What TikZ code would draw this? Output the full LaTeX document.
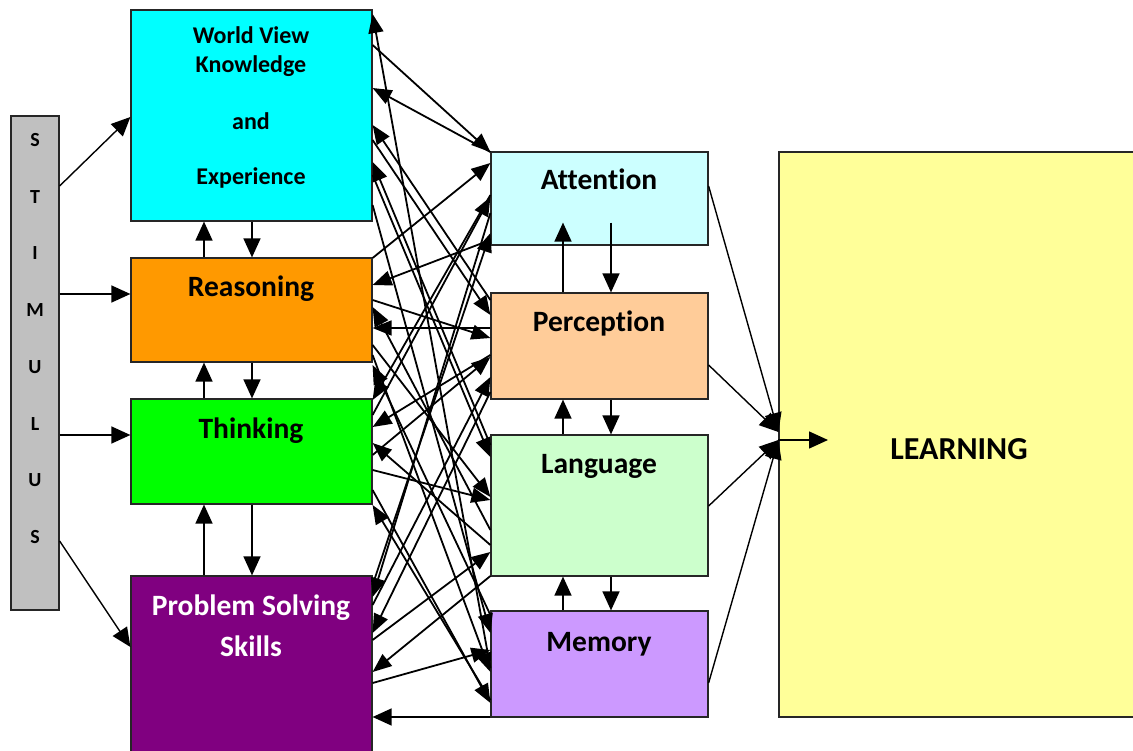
\documentclass[tikz,border=0pt]{standalone}
\usepackage{fontspec}
\setmainfont[Ligatures=NoCommon]{Carlito}
\usetikzlibrary{arrows.meta,calc}
\definecolor{cwv}{HTML}{00FFFF}
\definecolor{crea}{HTML}{FF9900}
\definecolor{cthi}{HTML}{00FF00}
\definecolor{cps}{HTML}{800080}
\definecolor{catt}{HTML}{CCFFFF}
\definecolor{cper}{HTML}{FFCC99}
\definecolor{clang}{HTML}{CCFFCC}
\definecolor{cmem}{HTML}{CC99FF}
\definecolor{clrn}{HTML}{FFFF99}
\definecolor{cstim}{HTML}{C0C0C0}
\tikzset{
  box/.style={draw=black!85, line width=1.2pt, inner sep=0pt, minimum width=#1},
  txt/.style={font=\bfseries\fontsize{29.5}{33}\selectfont, inner sep=0pt, anchor=base},
  wvtxt/.style={font=\bfseries\fontsize{24}{28}\selectfont, inner sep=0pt, anchor=base},
  stxt/.style={font=\bfseries\fontsize{20}{22}\selectfont, inner sep=0pt, anchor=base},
  cn/.style={line width=1.8pt, -{Triangle[length=19pt,width=15pt]}},
  bn/.style={line width=1.4pt, -{Triangle[length=19pt,width=17pt]}}
}
\begin{document}
\begin{tikzpicture}[x=1pt,y=-1pt]
\useasboundingbox (0,0) rectangle (1133,751);
\clip (0,0) rectangle (1133,751);
% boxes
\node[box=48pt, fill=cstim, minimum height=494pt] (stim) at (35,363) {};
\node[box=241pt, fill=cwv, minimum height=211pt] (wv) at (251.5,115.5) {};
\node[box=241pt, fill=crea, minimum height=104pt] (rea) at (251.5,310) {};
\node[box=241pt, fill=cthi, minimum height=105pt] (thi) at (251.5,451.5) {};
\node[box=241pt, fill=cps, minimum height=190pt] (ps) at (251.5,671) {};
\node[box=217pt, fill=catt, minimum height=93pt] (att) at (599.5,198.5) {};
\node[box=217pt, fill=cper, minimum height=106pt] (per) at (599.5,346) {};
\node[box=217pt, fill=clang, minimum height=141pt] (lang) at (599.5,505.5) {};
\node[box=217pt, fill=cmem, minimum height=106pt] (mem) at (599.5,664) {};
\node[box=356pt, fill=clrn, minimum height=565pt] (lrn) at (957,434.5) {};
% texts
\node[wvtxt] (t1) at (251,43.5) {World View};
\node[wvtxt] (t2) at (251,72.5) {Knowledge};
\node[wvtxt] (t3) at (251,129.5) {and};
\node[wvtxt] (t4) at (251,184.5) {Experience};
\node[txt] (t5) at (251,297) {Reasoning};
\node[txt] (t6) at (251,438) {Thinking};
\node[txt, text=white] (t7) at (251,615) {Problem Solving};
\node[txt, text=white] (t8) at (251,656) {Skills};
\node[txt] (t9) at (599,190) {Attention};
\node[txt] (t10) at (599,332) {Perception};
\node[txt] (t11) at (599,473) {Language};
\node[txt] (t12) at (599,651) {Memory};
\node[txt, font=\bfseries\fontsize{32}{36}\selectfont] (t13) at (959,459) {LEARNING};
\foreach \l [count=\i] in {S,T,I,M,U,L,U,S}
  \node[stxt] (s\i) at (35,{146.5+56.7*(\i-1)}) {\l};
% stimulus arrows
\draw[bn] (stim.east |- 0,186) -- (wv.west |- 0,117);
\draw[bn] (stim.east |- 0,294) -- (rea.west |- 0,294);
\draw[bn] (stim.east |- 0,435) -- (thi.west |- 0,435);
\draw[bn] (stim.east |- 0,541) -- (ps.west |- 0,647);
% vertical arrows left column
\draw[bn] (rea.north -| 204,0) -- (wv.south -| 204,0);
\draw[bn] (wv.south -| 252,0) -- (rea.north -| 252,0);
\draw[bn] (thi.north -| 204,0) -- (rea.south -| 204,0);
\draw[bn] (rea.south -| 252,0) -- (thi.north -| 252,0);
\draw[bn] (ps.north -| 204,0) -- (thi.south -| 204,0);
\draw[bn] (thi.south -| 252,0) -- (ps.north -| 252,0);
% vertical arrows middle column
\draw[bn] (per.north -| 563,0) -- ($(att.south -| 563,0)+(0,-23)$);
\draw[bn] ($(att.south -| 611,0)+(0,-23)$) -- (per.north -| 611,0);
\draw[bn] (lang.north -| 563,0) -- (per.south -| 563,0);
\draw[bn] (per.south -| 611,0) -- (lang.north -| 611,0);
\draw[bn] (mem.north -| 563,0) -- (lang.south -| 563,0);
\draw[bn] (lang.south -| 611,0) -- (mem.north -| 611,0);
% to learning
\coordinate (lin) at (lrn.west |- 0,440);
\coordinate (lout) at (828,440);
\draw[bn] (att.east |- 0,186) -- (lrn.west |- 0,432);
\draw[bn] (per.east |- 0,365) -- (lrn.west |- 0,432);
\draw[bn] (lang.east |- 0,506) -- (lin);
\draw[bn] (mem.east |- 0,683) -- (lin);
\draw[bn] (lin) -- (lout);
% memory to problem solving
\draw[bn] (mem.west |- 0,717) -- (ps.east |- 0,717);
% mesh: middle -> left
\foreach \s/\sy/\t/\ty in {mem/668/wv/14, att/152/wv/88, per/300/wv/125, lang/445/wv/162,
  att/240/rea/285, per/328/rea/328, lang/530/rea/307, mem/615/rea/365,
  att/195/thi/400, per/355/thi/427, lang/545/thi/443, mem/700/thi/505,
  att/213/ps/597, per/392/ps/633, lang/576/ps/672}
  \draw[cn] (\s.west |- 0,\sy) -- (\t.east |- 0,\ty);
% mesh: left -> middle
\foreach \s/\sy/\t/\ty in {wv/45/att/152, wv/140/per/315, wv/175/lang/457, wv/205/mem/633,
  rea/258/att/163, rea/300/per/338, rea/345/lang/497, rea/355/mem/672,
  thi/415/att/197, thi/455/per/357, thi/470/lang/500, thi/490/mem/703,
  ps/585/att/233, ps/605/per/377, ps/640/lang/552, ps/683/mem/650}
  \draw[cn] (\s.east |- 0,\sy) -- (\t.west |- 0,\ty);
\end{tikzpicture}
\end{document}
